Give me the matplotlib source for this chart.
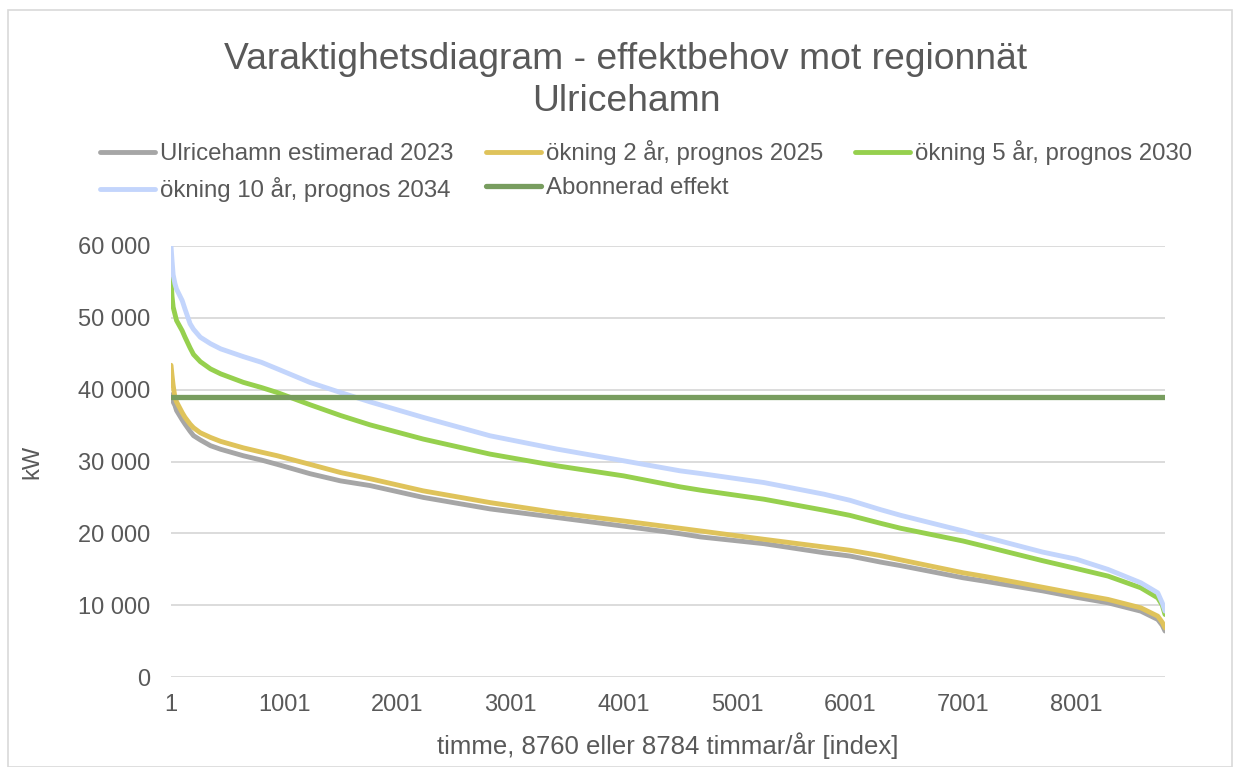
import matplotlib
matplotlib.use("Agg")
import matplotlib.pyplot as plt
from matplotlib.patches import Rectangle

plt.rcParams['font.family'] = ['Liberation Sans', 'DejaVu Sans']

hours = [1, 10, 20, 36, 50, 100, 125, 170, 200, 260, 350, 440, 640, 800, 940,
         1230, 1500, 1760, 2230, 2820, 3410, 4000, 4500, 4680, 5240, 5770, 6000,
         6270, 6450, 7000, 7190, 7700, 8000, 8280, 8570, 8720, 8760, 8784]

est_2023 = [39300, 38800, 38300, 37800, 37100, 35800, 35200, 34200, 33600, 33000,
            32200, 31700, 30800, 30200, 29600, 28300, 27300, 26650, 25000, 23400,
            22200, 21000, 19950, 19500, 18560, 17300, 16840, 16000, 15500, 13810,
            13340, 12000, 11100, 10330, 9170, 8010, 7200, 6400]

prog_2025 = [43400, 42000, 40600, 38900, 38300, 36800, 36140, 35200, 34700, 34000,
             33350, 32800, 31900, 31300, 30800, 29600, 28460, 27600, 25910, 24280,
             22880, 21720, 20700, 20330, 19170, 18100, 17640, 16900, 16300, 14510,
             14000, 12500, 11600, 10800, 9630, 8470, 7600, 6840]

prog_2030 = [55450, 53000, 51500, 50500, 49630, 48200, 47300, 45800, 44900, 43900,
             42890, 42200, 41020, 40300, 39600, 37900, 36400, 35100, 33120, 31030,
             29400, 28000, 26470, 26010, 24750, 23220, 22500, 21400, 20700, 18930,
             18200, 16200, 15100, 14050, 12420, 11020, 10000, 8700]

prog_2034 = [60000, 58000, 56000, 54750, 54000, 52400, 51200, 49170, 48400, 47300,
             46400, 45680, 44600, 43810, 42900, 41000, 39600, 38300, 36140, 33580,
             31730, 30100, 28700, 28330, 27070, 25450, 24600, 23300, 22500, 20330,
             19500, 17400, 16400, 14980, 13120, 11720, 10300, 9170]

abonnerad_x = [1, 8784]
abonnerad = [39000, 39000]

labels = ["Ulricehamn estimerad 2023", "ökning 2 år, prognos 2025",
          "ökning 5 år, prognos 2030", "ökning 10 år, prognos 2034",
          "Abonnerad effekt"]
colors = ["#A6A6A6", "#DFC35B", "#96D04E", "#C3D5FC", "#789D5F"]

xticks = [1, 1001, 2001, 3001, 4001, 5001, 6001, 7001, 8001]
yticks = [0, 10000, 20000, 30000, 40000, 50000, 60000]
ytick_labels = ["0", "10 000", "20 000", "30 000", "40 000", "50 000", "60 000"]

W, H = 1238, 767
fig = plt.figure(figsize=(W / 100, H / 100), dpi=100)
ax = fig.add_axes([171 / W, 1 - 677 / H, (1165 - 171) / W, (677 - 246) / H])

txt = "#595959"
lw = 3.5
series = [est_2023, prog_2025, prog_2030, prog_2034]
handles = []
for s, c, lab in zip(series, colors[:4], labels[:4]):
    h, = ax.plot(hours, s, color=c, lw=lw, solid_capstyle='round',
                 solid_joinstyle='round', label=lab)
    handles.append(h)
h, = ax.plot(abonnerad_x, abonnerad, color=colors[4], lw=3.8,
             solid_capstyle='round', label=labels[4], zorder=3)
handles.append(h)

ax.set_xlim(1, 8784)
ax.set_ylim(0, 60000)
ax.set_xticks(xticks)
ax.set_xticklabels([str(t) for t in xticks])
ax.set_yticks(yticks)
ax.set_yticklabels(ytick_labels)
ax.grid(axis='y', color='#D9D9D9', lw=1.3)
ax.set_axisbelow(True)
for sp in ax.spines.values():
    sp.set_visible(False)
ax.tick_params(axis='both', length=0, labelsize=17, colors=txt)
ax.tick_params(axis='y', pad=15)
ax.tick_params(axis='x', pad=12)

ax.set_xlabel("timme, 8760 eller 8784 timmar/år [index]", fontsize=18.5,
              color=txt, labelpad=12)
ax.set_ylabel("kW", fontsize=17, color=txt, labelpad=25)

fig.text(626 / W, 1 - 42 / H,
         "Varaktighetsdiagram - effektbehov mot regionnät\nUlricehamn",
         ha='center', va='top', fontsize=26.8, color=txt, linespacing=1.25)

order = [0, 3, 1, 4, 2]
leg = fig.legend([handles[i] for i in order], [labels[i] for i in order],
                 ncol=3, loc='upper left', bbox_to_anchor=(100 / W, 1 - 140 / H),
                 frameon=False, fontsize=17.3, handlelength=2.3,
                 handletextpad=0.2, columnspacing=1.34, labelspacing=0.5,
                 borderpad=0, borderaxespad=0)
for t in leg.get_texts():
    t.set_color(txt)

fig.patches.append(Rectangle((8 / W, 0), (1232 - 8) / W, 1 - 10 / H,
                             transform=fig.transFigure, fill=False,
                             edgecolor='#D9D9D9', lw=1.2))

fig.savefig("out.png", dpi=100)
